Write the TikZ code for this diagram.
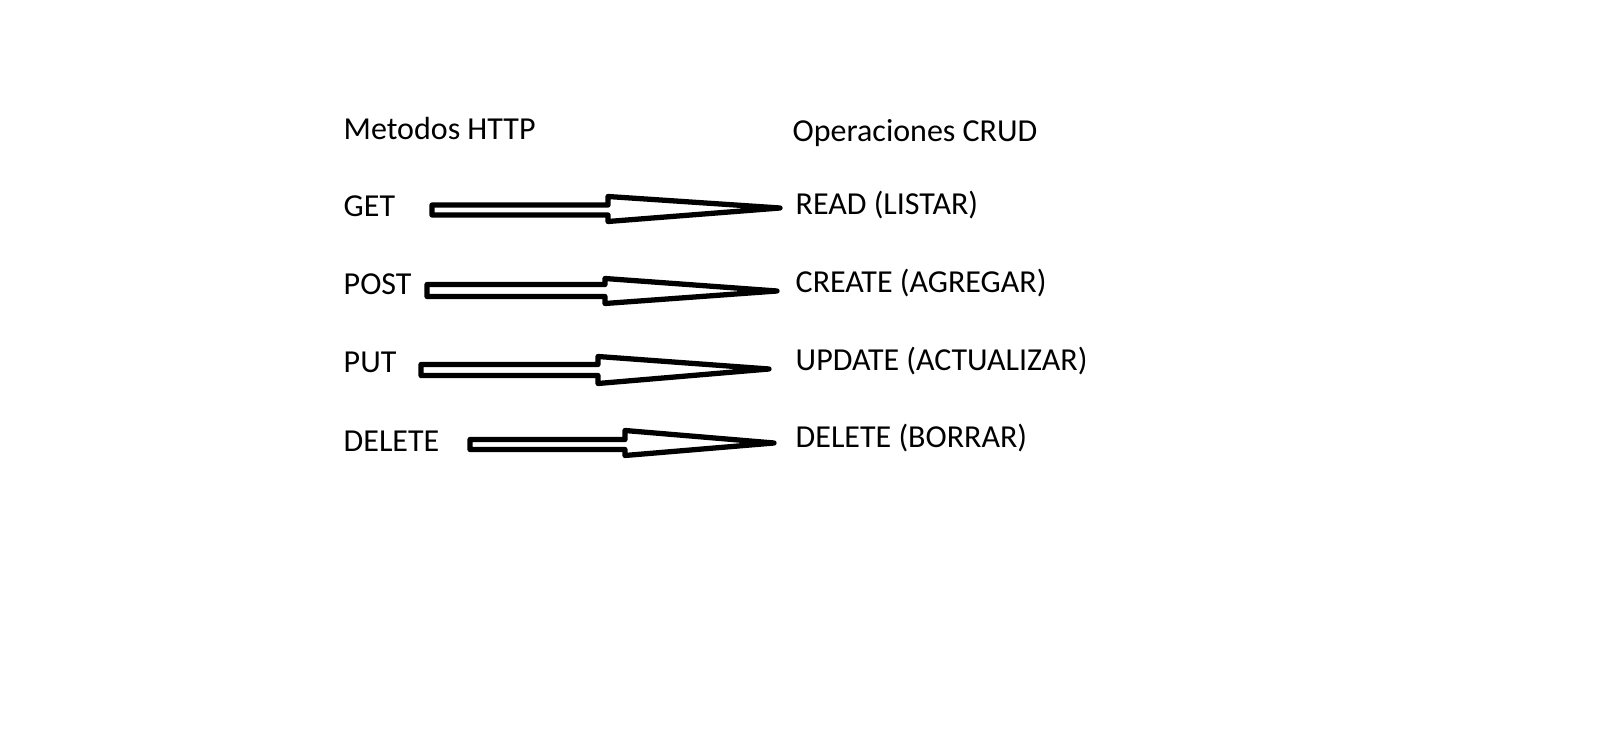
\documentclass[tikz,border=0pt]{standalone}
\usepackage{fontspec}
\setmainfont{Carlito}
\usetikzlibrary{calc}
\tikzset{
	method/.style = {anchor = base west, inner sep = 0pt, font = \fontsize{9.1}{11}\selectfont},
	crudarrow/.style = {line width = 1.5pt, line join = round, fill = white}
}
\begin{document}
\begin{tikzpicture}[x = 0.01cm, y = -0.01cm]
	\useasboundingbox [fill = white] (0,0) rectangle (1618,743);
	% headers
	\node [method] (http) at (343,140) {Metodos HTTP};
	\node [method] (crud) at (792,142) {Operaciones CRUD};
	% left column
	\node [method] (get) at (343,217) {GET};
	\node [method] (post) at (343,295) {POST};
	\node [method] (put) at (343,373) {PUT};
	\node [method] (delete) at (343,452) {DELETE};
	% right column
	\node [method] (read) at (795,215) {READ (LISTAR)};
	\node [method] (create) at (795,293) {CREATE (AGREGAR)};
	\node [method] (update) at (795,371) {UPDATE (ACTUALIZAR)};
	\node [method] (borrar) at (795,448) {DELETE (BORRAR)};
	% arrow ends
	\coordinate (getS) at (432,210);
	\coordinate (getT) at (780,208);
	\coordinate (postS) at (427,290.5);
	\coordinate (postT) at (777,291);
	\coordinate (putS) at (421,370);
	\coordinate (putT) at (769,369);
	\coordinate (deleteS) at (470,444.5);
	\coordinate (deleteT) at (774,443);
	% block arrows
	\draw [crudarrow] ($(getS)+(0,-5)$) -- ($(getS)+(176,-5)$) -- ($(getS)+(176,-13.5)$) -- (getT)
		-- ($(getS)+(176,11.5)$) -- ($(getS)+(176,5)$) -- ($(getS)+(0,5)$) -- cycle;
	\draw [crudarrow] ($(postS)+(0,-6)$) -- ($(postS)+(178,-6)$) -- ($(postS)+(178,-12)$) -- (postT)
		-- ($(postS)+(178,13)$) -- ($(postS)+(178,6)$) -- ($(postS)+(0,6)$) -- cycle;
	\draw [crudarrow] ($(putS)+(0,-5.5)$) -- ($(putS)+(177,-5.5)$) -- ($(putS)+(177,-13.5)$) -- (putT)
		-- ($(putS)+(177,13.5)$) -- ($(putS)+(177,5.5)$) -- ($(putS)+(0,5.5)$) -- cycle;
	\draw [crudarrow] ($(deleteS)+(0,-5)$) -- ($(deleteS)+(155,-5)$) -- ($(deleteS)+(155,-14)$) -- (deleteT)
		-- ($(deleteS)+(155,11)$) -- ($(deleteS)+(155,5)$) -- ($(deleteS)+(0,5)$) -- cycle;
\end{tikzpicture}
\end{document}
